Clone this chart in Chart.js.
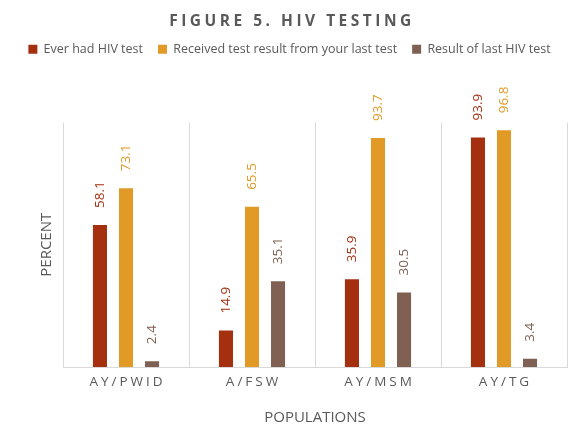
<!DOCTYPE html>
<html>
<head>
<meta charset="utf-8">
<script src="https://cdn.jsdelivr.net/npm/chart.js@4/dist/chart.umd.min.js"></script>
<style>
  html, body { margin: 0; padding: 0; background: #fff; }
  #wrap { width: 579px; height: 426px; }
</style>
</head>
<body>
<div id="wrap"><canvas id="chart"></canvas></div>
<script>
const categories = ['AY/PWID', 'A/FSW', 'AY/MSM', 'AY/TG'];
const everHad = [58.1, 14.9, 35.9, 93.9];
const receivedResult = [73.1, 65.5, 93.7, 96.8];
const resultLast = [2.4, 35.1, 30.5, 3.4];
const seriesNames = ['Ever had HIV test', 'Received test result from your last test', 'Result of last HIV test'];
const colors = ['#A5300F', '#E29A27', '#7F6052'];

const FONT = '"Open Sans", "Liberation Sans", sans-serif';
const GREY = '#595959';

// make room under the legend for the value labels
const legendGap = {
  id: 'legendGap',
  beforeInit(chart) {
    const fit = chart.legend.fit;
    chart.legend.fit = function () {
      fit.bind(chart.legend)();
      this.height += 57;
    };
  }
};

// rotated value labels, title, axis titles and spaced category labels
const extras = {
  id: 'extras',
  afterDatasetsDraw(chart) {
    const ctx = chart.ctx;
    ctx.save();
    ctx.font = '13.5px ' + FONT;
    ctx.textAlign = 'left';
    ctx.textBaseline = 'middle';
    chart.data.datasets.forEach((ds, i) => {
      chart.getDatasetMeta(i).data.forEach((bar, j) => {
        ctx.save();
        ctx.translate(bar.x, bar.y - 17);
        ctx.rotate(-Math.PI / 2);
        ctx.fillStyle = colors[i];
        ctx.fillText(ds.data[j].toFixed(1), 0, 0);
        ctx.restore();
      });
    });
    ctx.restore();
  },
  afterDraw(chart) {
    const ctx = chart.ctx;
    const x = chart.scales.x;
    const area = chart.chartArea;
    ctx.save();
    ctx.fillStyle = GREY;
    ctx.textAlign = 'center';
    ctx.textBaseline = 'middle';
    ctx.letterSpacing = '3.5px';
    ctx.font = 'bold 15.5px ' + FONT;
    ctx.fillText('FIGURE 5. HIV TESTING', 292, 22);
    ctx.letterSpacing = '3px';
    ctx.font = '13.5px ' + FONT;
    categories.forEach((c, i) => {
      ctx.fillText(c, x.getPixelForValue(i) + 1.5, area.bottom + 15);
    });
    ctx.letterSpacing = '0px';
    ctx.font = '15px ' + FONT;
    ctx.fillText('POPULATIONS', (area.left + area.right) / 2, area.bottom + 51);
    ctx.translate(47, (area.top + area.bottom) / 2);
    ctx.rotate(-Math.PI / 2);
    ctx.fillText('PERCENT', 0, 0);
    ctx.restore();
  }
};

new Chart(document.getElementById('chart'), {
  type: 'bar',
  data: {
    labels: categories,
    datasets: [everHad, receivedResult, resultLast].map((d, i) => ({
      label: seriesNames[i],
      data: d,
      backgroundColor: colors[i],
      categoryPercentage: 0.62,
      barPercentage: 0.54
    }))
  },
  options: {
    responsive: true,
    maintainAspectRatio: false,
    animation: false,
    layout: { padding: { top: 28, left: 12, right: 12, bottom: 0 } },
    plugins: {
      title: { display: false },
      tooltip: { enabled: false },
      legend: {
        position: 'top',
        labels: {
          boxWidth: 9,
          boxHeight: 9,
          padding: 15,
          color: GREY,
          font: { family: FONT, size: 12.5 }
        }
      }
    },
    scales: {
      x: {
        grid: { display: true, offset: true, color: '#D9D9D9', drawTicks: false },
        border: { display: true, color: '#D9D9D9' },
        ticks: { display: false },
        afterFit(scale) { scale.height = 59; }
      },
      y: {
        min: 0,
        max: 100,
        grid: { display: false },
        border: { display: false },
        ticks: { display: false },
        afterFit(scale) { scale.width = 51; }
      }
    }
  },
  plugins: [legendGap, extras]
});
</script>
</body>
</html>
